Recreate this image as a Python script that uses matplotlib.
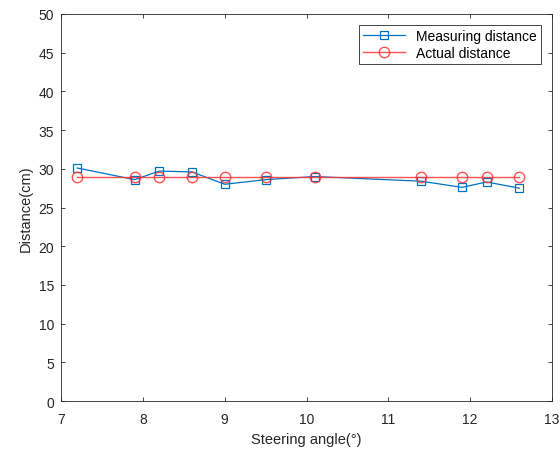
import numpy as np
import matplotlib.pyplot as plt

plt.rcParams['font.family'] = ['Liberation Sans', 'DejaVu Sans']

angle = [7.2, 7.9, 8.2, 8.6, 9.0, 9.5, 10.1, 11.4, 11.9, 12.2, 12.6]
measured = [30.1, 28.6, 29.7, 29.6, 28.0, 28.6, 29.0, 28.4, 27.6, 28.3, 27.5]
actual = [29, 29, 29, 29, 29, 29, 29, 29, 29, 29, 29]

fig = plt.figure(figsize=(5.6, 4.52), dpi=100)
ax = fig.add_axes([61 / 560, 1 - 402 / 452, 491 / 560, 387 / 452])

ax.plot(angle, measured, '-s', color='#0072BD', lw=0.9, ms=5.5,
        mfc='none', mew=0.9, label='Measuring distance')
ax.plot(angle, actual, '-o', color='#ff3333', lw=1.0, ms=7.5,
        mfc='none', mew=1.0, alpha=0.85, label='Actual distance')

ax.set_xlim(7, 13)
ax.set_ylim(0, 50)
ax.set_xticks(np.arange(7, 14, 1))
ax.set_yticks(np.arange(0, 55, 5))
ax.tick_params(direction='in', top=True, right=True, labelsize=10,
               length=3, width=0.6, colors='#262626')
ax.tick_params(axis='x', pad=8)
ax.tick_params(axis='y', pad=5)
for s in ax.spines.values():
    s.set_linewidth(0.6)
    s.set_color('#262626')

ax.set_xlabel('Steering angle(°)', fontsize=10.5, color='#262626', labelpad=4)
ax.set_ylabel('Distance(cm)', fontsize=10.5, color='#262626')

leg = ax.legend(loc='upper right', fontsize=10, fancybox=False,
                edgecolor='#262626', framealpha=1, borderpad=0.3,
                handlelength=3, labelspacing=0.2, borderaxespad=0.8)
leg.get_frame().set_linewidth(0.6)

fig.savefig('out.png', dpi=100)
